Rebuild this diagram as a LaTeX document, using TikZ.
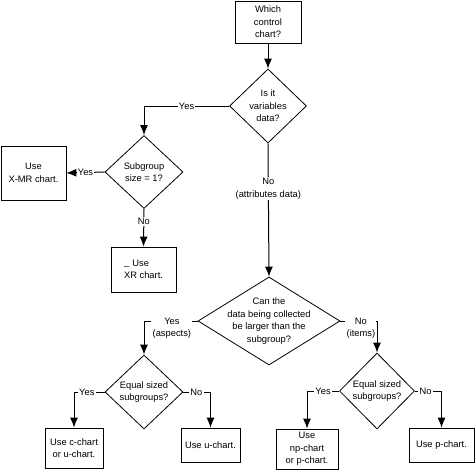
\documentclass[tikz,border=0pt]{standalone}
\usepackage{fontspec}
\setmainfont{Liberation Sans}
\usetikzlibrary{shapes.geometric,arrows.meta}

\tikzset{
  box/.style={draw, rectangle, inner sep=0pt, align=center, line width=0.6pt},
  dec/.style={draw, diamond, inner sep=0pt, align=center, line width=0.6pt},
  arr/.style={-{Latex[length=7.5pt,width=6pt]}, line width=0.75pt},
  lbl/.style={fill=white, inner sep=1pt, align=center},
  lbltwo/.style={lbl, anchor=north, yshift=3.6pt},
}

\begin{document}
\begin{tikzpicture}[x=0.75pt,y=-0.75pt,font=\fontsize{7}{9.3}\selectfont]
  \useasboundingbox (0,0) rectangle (475,475);
  % questions
  \node[box, minimum width=49.5pt, minimum height=31.5pt] (start) at (268,22) {Which\\control\\chart?};
  \node[dec, minimum width=57.75pt, minimum height=55.5pt] (vardata) at (268,106) {Is it\\variables\\data?};
  \node[dec, minimum width=58.5pt, minimum height=54.75pt] (subsize) at (144,172) {Subgroup\\size = 1?};
  \node[dec, minimum width=106.5pt, minimum height=66pt, inner sep=-8pt] (larger) at (269,321) {Can the\\data being collected\\be larger than the\\subgroup?};
  \node[dec, minimum width=58.5pt, minimum height=55.5pt] (eqaspects) at (144,392) {Equal sized\\subgroups?};
  \node[dec, minimum width=56.25pt, minimum height=57pt] (eqitems) at (377,391) {Equal sized\\subgroups?};
  % answers
  \node[box, minimum width=48.75pt, minimum height=40.5pt] (xmr) at (33.5,173) {Use\\X-MR chart.};
  \node[box, minimum width=48.75pt, minimum height=33.75pt, align=left] (xr) at (143.5,269.5) {\raisebox{1pt}{\_}\,\,Use\\XR chart.};
  \node[box, minimum width=43.5pt, minimum height=30pt] (cchart) at (74,448) {Use c-chart\\or u-chart.};
  \node[box, minimum width=44.25pt, minimum height=25.5pt] (uchart) at (210.5,445) {Use u-chart.};
  \node[box, minimum width=46.5pt, minimum height=30pt] (npchart) at (307,449) {Use\\np-chart\\or p-chart.};
  \node[box, minimum width=48.75pt, minimum height=25.5pt] (pchart) at (441.5,445) {Use p-chart.};
  % connectors
  \draw[arr] (start) -- (vardata);
  \draw[arr] (vardata.west) -| node[lbl, pos=0.25] {Yes} (subsize.north);
  \draw[arr] (subsize.west) -- node[lbl] {Yes} (xmr.east);
  \draw[arr] (subsize.south) -- node[lbl, pos=0.33] {No} (xr.north);
  \draw[arr] (vardata.south) -- node[lbl, pos=0.34] {No\\(attributes data)} (larger.north);
  \draw[arr] (larger.west) -| node[lbltwo, pos=0.24] {Yes\\(aspects)} (eqaspects.north);
  \draw[arr] (larger.east) -| node[lbltwo, pos=0.28] {No\\(items)} (eqitems.north);
  \draw[arr] (eqaspects.west) -| node[lbl, pos=0.29] {Yes} (cchart.north);
  \draw[arr] (eqaspects.east) -| node[lbl, pos=0.24] {No} (uchart.north);
  \draw[arr] (eqitems.west) -| node[lbl, pos=0.25] {Yes} (npchart.north);
  \draw[arr] (eqitems.east) -| node[lbl, pos=0.2] {No} (pchart.north);
\end{tikzpicture}
\end{document}
